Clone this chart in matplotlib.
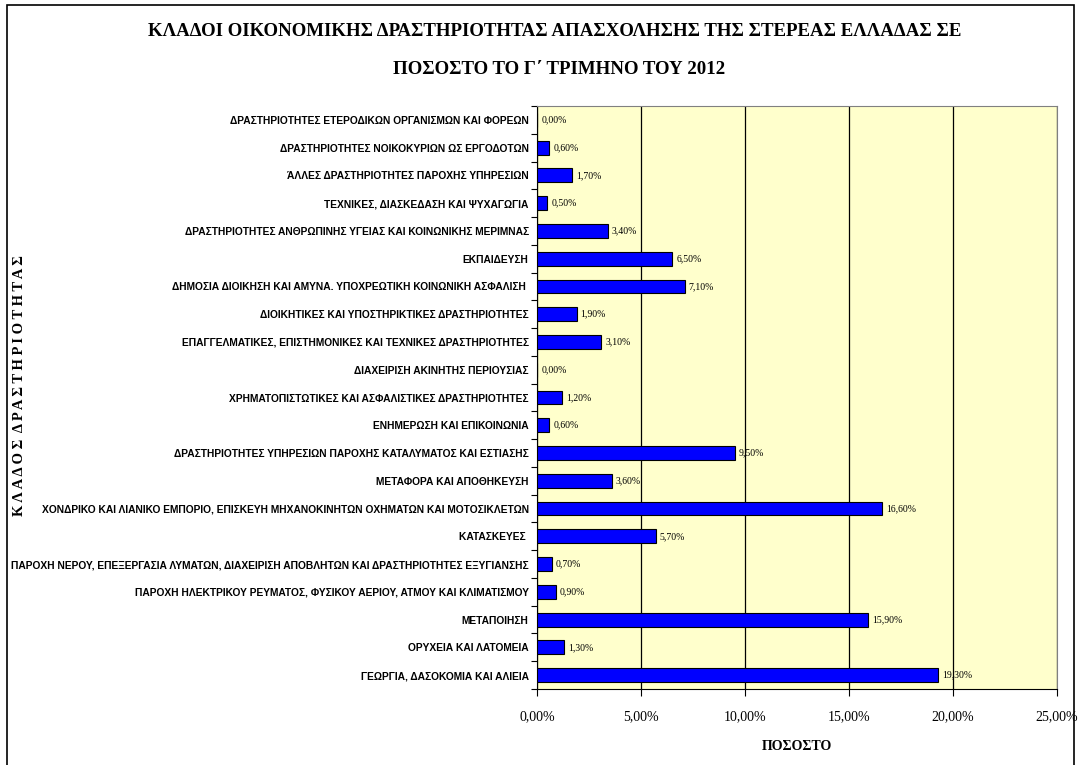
import numpy as np
import matplotlib
matplotlib.use('Agg')
import matplotlib.pyplot as plt
from matplotlib.patches import Rectangle
from matplotlib.ticker import FuncFormatter, FixedLocator

# categories from bottom to top (as drawn)
categories = [
    'ΓΕΩΡΓΙΑ, ΔΑΣΟΚΟΜΙΑ ΚΑΙ ΑΛΙΕΙΑ',
    'ΟΡΥΧΕΙΑ ΚΑΙ ΛΑΤΟΜΕΙΑ',
    'ΜΕΤΑΠΟΙΗΣΗ',
    'ΠΑΡΟΧΗ ΗΛΕΚΤΡΙΚΟΥ ΡΕΥΜΑΤΟΣ, ΦΥΣΙΚΟΥ ΑΕΡΙΟΥ, ΑΤΜΟΥ ΚΑΙ ΚΛΙΜΑΤΙΣΜΟΥ',
    'ΠΑΡΟΧΗ ΝΕΡΟΥ, ΕΠΕΞΕΡΓΑΣΙΑ ΛΥΜΑΤΩΝ, ΔΙΑΧΕΙΡΙΣΗ ΑΠΟΒΛΗΤΩΝ ΚΑΙ ΔΡΑΣΤΗΡΙΟΤΗΤΕΣ ΕΞΥΓΙΑΝΣΗΣ',
    'ΚΑΤΑΣΚΕΥΕΣ ',
    'ΧΟΝΔΡΙΚΟ ΚΑΙ ΛΙΑΝΙΚΟ ΕΜΠΟΡΙΟ, ΕΠΙΣΚΕΥΗ ΜΗΧΑΝΟΚΙΝΗΤΩΝ ΟΧΗΜΑΤΩΝ ΚΑΙ ΜΟΤΟΣΙΚΛΕΤΩΝ',
    'ΜΕΤΑΦΟΡΑ ΚΑΙ ΑΠΟΘΗΚΕΥΣΗ',
    'ΔΡΑΣΤΗΡΙΟΤΗΤΕΣ ΥΠΗΡΕΣΙΩΝ ΠΑΡΟΧΗΣ ΚΑΤΑΛΥΜΑΤΟΣ ΚΑΙ ΕΣΤΙΑΣΗΣ',
    'ΕΝΗΜΕΡΩΣΗ ΚΑΙ ΕΠΙΚΟΙΝΩΝΙΑ',
    'ΧΡΗΜΑΤΟΠΙΣΤΩΤΙΚΕΣ ΚΑΙ ΑΣΦΑΛΙΣΤΙΚΕΣ ΔΡΑΣΤΗΡΙΟΤΗΤΕΣ',
    'ΔΙΑΧΕΙΡΙΣΗ ΑΚΙΝΗΤΗΣ ΠΕΡΙΟΥΣΙΑΣ',
    'ΕΠΑΓΓΕΛΜΑΤΙΚΕΣ, ΕΠΙΣΤΗΜΟΝΙΚΕΣ ΚΑΙ ΤΕΧΝΙΚΕΣ ΔΡΑΣΤΗΡΙΟΤΗΤΕΣ',
    'ΔΙΟΙΚΗΤΙΚΕΣ ΚΑΙ ΥΠΟΣΤΗΡΙΚΤΙΚΕΣ ΔΡΑΣΤΗΡΙΟΤΗΤΕΣ',
    'ΔΗΜΟΣΙΑ ΔΙΟΙΚΗΣΗ ΚΑΙ ΑΜΥΝΑ. ΥΠΟΧΡΕΩΤΙΚΗ ΚΟΙΝΩΝΙΚΗ ΑΣΦΑΛΙΣΗ ',
    'ΕΚΠΑΙΔΕΥΣΗ',
    'ΔΡΑΣΤΗΡΙΟΤΗΤΕΣ ΑΝΘΡΩΠΙΝΗΣ ΥΓΕΙΑΣ ΚΑΙ ΚΟΙΝΩΝΙΚΗΣ ΜΕΡΙΜΝΑΣ',
    'ΤΕΧΝΙΚΕΣ, ΔΙΑΣΚΕΔΑΣΗ ΚΑΙ ΨΥΧΑΓΩΓΙΑ',
    'ΆΛΛΕΣ ΔΡΑΣΤΗΡΙΟΤΗΤΕΣ ΠΑΡΟΧΗΣ ΥΠΗΡΕΣΙΩΝ',
    'ΔΡΑΣΤΗΡΙΟΤΗΤΕΣ ΝΟΙΚΟΚΥΡΙΩΝ ΩΣ ΕΡΓΟΔΟΤΩΝ',
    'ΔΡΑΣΤΗΡΙΟΤΗΤΕΣ ΕΤΕΡΟΔΙΚΩΝ ΟΡΓΑΝΙΣΜΩΝ ΚΑΙ ΦΟΡΕΩΝ',
]
values = [19.3, 1.3, 15.9, 0.9, 0.7, 5.7, 16.6, 3.6, 9.5, 0.6, 1.2,
          0.0, 3.1, 1.9, 7.1, 6.5, 3.4, 0.5, 1.7, 0.6, 0.0]
xticks = [0, 5, 10, 15, 20, 25]

title1 = 'ΚΛΑΔΟΙ ΟΙΚΟΝΟΜΙΚΗΣ ΔΡΑΣΤΗΡΙΟΤΗΤΑΣ ΑΠΑΣΧΟΛΗΣΗΣ ΤΗΣ ΣΤΕΡΕΑΣ ΕΛΛΑΔΑΣ ΣΕ'
title2 = 'ΠΟΣΟΣΤΟ ΤΟ Γ΄ ΤΡΙΜΗΝΟ ΤΟΥ 2012'
xlabel = 'ΠΟΣΟΣΤΟ'
ylabel = 'ΚΛΑΔΟΣ ΔΡΑΣΤΗΡΙΟΤΗΤΑΣ'

SERIF = ['Liberation Serif', 'DejaVu Serif']
SANS = ['Liberation Sans', 'DejaVu Sans']

W, H = 1079, 765
fig = plt.figure(figsize=(W / 100, H / 100), dpi=100)
fig.patch.set_facecolor('white')

# outer chart frame
fig.patches.append(Rectangle((7 / W, -0.01), (1074 - 7) / W, (H - 5) / H + 0.01,
                             transform=fig.transFigure, fill=False,
                             edgecolor='black', linewidth=1.2))

ax = fig.add_axes([537 / W, (H - 689) / H, (1057 - 537) / W, (689 - 106) / H])
ax.set_facecolor('#FFFFCC')

y = np.arange(len(categories))
ax.barh(y, values, height=0.5, color='#0000FF', edgecolor='black',
        linewidth=0.8, zorder=3)

for yi, v in zip(y, values):
    ax.text(v + 0.2, yi, ('%.2f%%' % v).replace('.', ','), va='center',
            ha='left', fontsize=7, family=SERIF, zorder=4)

ax.set_xlim(0, 25)
ax.set_ylim(-0.5, len(categories) - 0.5)
ax.xaxis.set_major_locator(FixedLocator(xticks))
ax.xaxis.set_major_formatter(FuncFormatter(lambda v, p: ('%.2f%%' % v).replace('.', ',')))
ax.grid(axis='x', color='black', linewidth=0.9, zorder=1)

ax.set_yticks(y)
ax.set_yticklabels(categories, fontsize=7.4, fontweight='bold', family=SANS)
ax.yaxis.set_minor_locator(FixedLocator(np.arange(-0.5, len(categories), 1)))
ax.tick_params(axis='y', which='major', length=0, pad=6)
ax.tick_params(axis='y', which='minor', length=4, width=0.8, direction='out')
ax.tick_params(axis='x', length=5, width=0.8, direction='out', pad=10)
for lab in ax.get_xticklabels():
    lab.set_family(SERIF)
    lab.set_fontsize(10)

for s in ['top', 'right']:
    ax.spines[s].set_color('#808080')
for s in ['left', 'bottom']:
    ax.spines[s].set_color('black')

fig.text(555 / W, 1 - 31 / H, title1, ha='center', va='center', fontsize=13.6,
         fontweight='bold', family=SERIF)
fig.text(559 / W, 1 - 70 / H, title2, ha='center', va='center', fontsize=13.6,
         fontweight='bold', family=SERIF)
fig.text(797 / W, 1 - 747 / H, xlabel, ha='center', va='center', fontsize=10,
         fontweight='bold', family=SERIF)
fig.text(20 / W, 1 - 386 / H, '  '.join([' '.join(w) for w in ylabel.split()]),
         rotation=90, ha='center', va='center', fontsize=10.5, fontweight='bold',
         family=SERIF)

fig.savefig('out.png', dpi=100)
